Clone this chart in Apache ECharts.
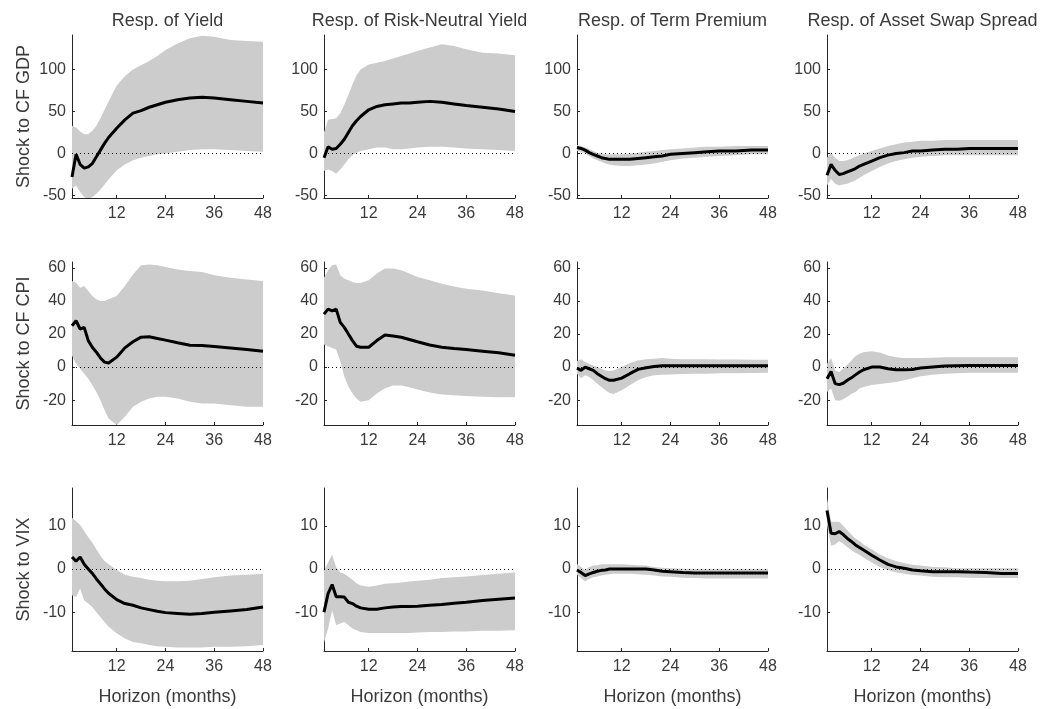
<!DOCTYPE html>
<html><head><meta charset="utf-8">
<script src="https://cdn.jsdelivr.net/npm/echarts@6/dist/echarts.min.js"></script>
<style>html,body{margin:0;padding:0;background:#fff}#c{width:1046px;height:709px}</style>
</head><body><div id="c"></div>
<script>
// ---------------- DATA ----------------
const horizons = [1,2,3,4,5,6,7,8,9,10,12,14,16,18,20,22,24,27,30,33,36,40,44,48];
const colTitles = ['Resp. of Yield','Resp. of Risk-Neutral Yield','Resp. of Term Premium','Resp. of Asset Swap Spread'];
const rowTitles = ['Shock to CF GDP','Shock to CF CPI','Shock to VIX'];
const xAxisTitle = 'Horizon (months)';
const xTickValues = [12,24,36,48];
const yTicksGdp = [-50,0,50,100];
const yTicksCpi = [-20,0,20,40,60];
const yTicksVix = [-10,0,10];
const yRangeGdp = [-53,141];
const yRangeCpi = [-35,63.5];
const yRangeVix = [-19,18.8];

// Row 1: shock to CF GDP
const yieldGdpMean = [-28,-1,-13,-17.5,-16,-12,-4,4,12,19,30,40,48,51,55,58,61,64,66,67,66,64,62,60];
const yieldGdpUp   = [33,31,26,23,23,27,33,42,52,62,81,92,100,105,110,116,123,131,137,140,139,135,134,133];
const yieldGdpLo   = [-42,-38,-46,-52,-54,-52,-48,-43,-37,-31,-20,-13,-8,-5,-3,-1,0,2,4,5,5,4,3,2];
const rnGdpMean = [-5,8,5,6,11,17,25,33,39,44,52,56,58,59,60,60,61,62,61,59,57,55,53,50];
const rnGdpUp   = [25,40,41,42,48,58,70,82,93,100,106,108,110,113,116,119,122,126,130,128,124,120,119,117];
const rnGdpLo   = [-21,-19,-21,-24,-19,-13,-7,-2,1,3,5,7,7,5,5,6,7,8,8,7,6,5,4,3];
const tpGdpMean = [7,6,4,1,-1,-3,-5,-6,-7,-7,-7,-7,-6,-5,-4,-3,-1,0,1,2,3,3,4,4];
const tpGdpUp   = [10,9,7,5,3,1,0,-1,-1,-1,-1,0,1,2,3,4,5,6,7,8,8,9,9,9];
const tpGdpLo   = [3,2,0,-3,-6,-8,-10,-12,-13,-14,-15,-15,-14,-13,-12,-10,-8,-6,-5,-4,-3,-2,-1,-1];
const aswGdpMean = [-26,-13,-20,-25,-24,-22,-20,-18,-15,-13,-9,-5,-2,0,1,3,3,4,5,5,6,6,6,6];
const aswGdpUp   = [-5,1,-5,-9,-9,-8,-6,-4,-2,0,3,6,9,11,13,14,15,15,16,16,16,16,16,16];
const aswGdpLo   = [-38,-30,-36,-38,-37,-36,-34,-32,-29,-26,-21,-16,-12,-9,-7,-5,-4,-3,-2,-2,-2,-2,-2,-2];

// Row 2: shock to CF CPI
const yieldCpiMean = [25,28,23,24,16,12,9,5.5,3,2.5,6,11.6,15.3,18.1,18.3,17.3,16.3,14.7,13.2,13,12.4,11.6,10.6,9.6];
const yieldCpiUp   = [52,51,48,49,46,43,41,40,40,41,43,49,56,61.5,62,61.5,60.5,59,58,57.5,55.5,54,53,52];
const yieldCpiLo   = [7,2,-1,-4,-7,-11,-15,-20,-26,-31,-35,-30,-24,-21,-19,-18,-18,-19,-21,-22,-22,-23,-24,-24];
const rnCpiMean = [32,35,34,35,27,24,20,16,12.6,12,12,16,19.4,18.8,18,16.7,15.3,13.3,12,11.2,10.6,9.6,8.6,7.1];
const rnCpiUp   = [54,58.5,61.6,62,55.5,53.4,52.4,51.4,50.8,50.8,52.4,56.5,59.5,59.5,58.5,56.5,54.4,52.4,50.4,48.7,47.3,46.3,44.6,43.2];
const rnCpiLo   = [13.7,12.6,11.6,10.6,3.5,-5.7,-11.8,-15.9,-19,-21,-20,-16,-12.8,-11.2,-11.2,-12.2,-13.5,-15.3,-16.5,-17,-17.5,-18,-18.3,-18.3];
const tpCpiMean = [-0.6,-2,0,-1,-2,-4,-5.5,-7,-8,-8,-6.7,-4,-1.4,-0.4,0.4,0.8,0.8,0.8,0.8,0.8,0.8,0.8,0.8,0.8];
const tpCpiUp   = [3.5,4.7,3,2,1,0,-1,-2,-2.4,-2,0,2.4,4,4.7,5,5.5,5,4.8,4.7,4.7,4.6,4.6,4.5,4.5];
const tpCpiLo   = [-4,-6.7,-5,-6,-8,-10,-12,-14,-15.7,-16.3,-14,-11,-8,-6,-5,-4.7,-4.5,-4.2,-4,-4,-3.8,-3.7,-3.6,-3.5];
const aswCpiMean = [-7,-2.7,-10,-10.6,-9.8,-8,-6.5,-4.7,-3,-1.6,0,0,-1,-1.6,-1.6,-1.4,-0.6,0,0.6,0.8,0.9,1,1,1];
const aswCpiUp   = [2,5.5,-2,-3,-1,1.4,4,6.5,8,9,9.6,8.8,7,6,5.5,5.5,5.5,5.7,6,6,6,6,6,6];
const aswCpiLo   = [-15,-13,-20,-20.4,-19.4,-18,-16.3,-15,-13,-12,-10.8,-10.2,-9.6,-9,-8,-6.7,-5.5,-4.7,-4,-3.7,-3.5,-3.5,-3.5,-3.5];

// Row 3: shock to VIX
const yieldVixMean = [2.8,1.8,2.8,1.1,0,-1,-2.3,-3.4,-4.6,-5.6,-7.1,-8,-8.4,-9,-9.4,-9.8,-10.1,-10.3,-10.5,-10.3,-10,-9.7,-9.4,-8.8];
const yieldVixUp   = [11.9,11.1,10.2,8.8,7.4,6.1,4.6,3.1,1.9,1.1,-0.2,-1.3,-1.8,-2.1,-2.5,-2.7,-2.8,-2.8,-2.7,-2.3,-1.9,-1.5,-1.3,-1.1];
const yieldVixLo   = [-6.1,-6.5,-4.5,-7.3,-8,-8.8,-10,-11.1,-12.3,-13.4,-14.9,-16.1,-16.9,-17.2,-17.6,-17.9,-18,-18.2,-18.2,-18.2,-18,-18,-17.9,-17.6];
const rnVixMean = [-10,-5.7,-3.6,-6.4,-6.4,-6.5,-7.7,-8,-8.6,-9,-9.3,-9.3,-9,-8.8,-8.7,-8.7,-8.6,-8.4,-8.2,-7.9,-7.7,-7.3,-7,-6.7];
const rnVixUp   = [-0.4,1.5,3.3,0.4,-0.8,-1.1,-1.8,-2.5,-3.3,-3.8,-4.1,-3.8,-3.4,-3.3,-3.1,-2.9,-2.7,-2.5,-2.1,-1.9,-1.7,-1.4,-1.1,-0.8];
const rnVixLo   = [-17,-13.8,-9.6,-13,-12.6,-12.3,-13,-13.8,-14.2,-14.6,-14.8,-14.8,-14.8,-14.8,-14.8,-14.8,-14.7,-14.6,-14.6,-14.5,-14.5,-14.3,-14.3,-14.2];
const tpVixMean = [-0.2,-0.8,-1.5,-1.1,-0.8,-0.5,-0.3,-0.2,0,0,0,0,0,0,-0.2,-0.5,-0.6,-0.8,-0.9,-0.9,-0.9,-0.9,-0.9,-0.9];
const tpVixUp   = [1.2,0.5,-0.2,0.5,0.8,0.9,1.1,1.1,1.1,1.1,1.1,1,0.9,0.8,0.5,0.3,0.2,0.1,0,0,0,0,0,0];
const tpVixLo   = [-1.3,-2.1,-2.8,-2.3,-1.9,-1.7,-1.5,-1.3,-1.2,-1.1,-1.1,-1.1,-1.2,-1.3,-1.5,-1.7,-1.8,-2,-2.1,-2.2,-2.2,-2.2,-2.2,-2.2];
const aswVixMean = [13.6,8.3,8.2,8.7,8,7.1,6.4,5.6,5,4.4,3.2,2.1,1.1,0.5,0.2,-0.2,-0.4,-0.6,-0.6,-0.6,-0.7,-0.8,-1,-1];
const aswVixUp   = [16.5,11,11,11,10,9,8,7.1,6.5,5.7,4.6,3.4,2.5,1.9,1.4,1,0.8,0.5,0.4,0.2,0.2,0.2,0.2,0.2];
const aswVixLo   = [10.3,5.4,5.7,6.5,5.9,5.1,4.4,3.8,3.3,2.7,1.5,0.5,-0.2,-0.8,-1.1,-1.4,-1.5,-1.8,-1.9,-1.9,-2,-2.1,-2.1,-2.1];

// ---------------- BUILD ----------------
const panels = [
  [[yieldGdpMean,yieldGdpUp,yieldGdpLo],[rnGdpMean,rnGdpUp,rnGdpLo],[tpGdpMean,tpGdpUp,tpGdpLo],[aswGdpMean,aswGdpUp,aswGdpLo]],
  [[yieldCpiMean,yieldCpiUp,yieldCpiLo],[rnCpiMean,rnCpiUp,rnCpiLo],[tpCpiMean,tpCpiUp,tpCpiLo],[aswCpiMean,aswCpiUp,aswCpiLo]],
  [[yieldVixMean,yieldVixUp,yieldVixLo],[rnVixMean,rnVixUp,rnVixLo],[tpVixMean,tpVixUp,tpVixLo],[aswVixMean,aswVixUp,aswVixLo]]
];
const rowTicks = [yTicksGdp, yTicksCpi, yTicksVix];
const rowRanges = [yRangeGdp, yRangeCpi, yRangeVix];

const colLeft = [72, 324, 577, 827];
const gridW = 191;
const rowTop = [35, 262, 488];
const gridH = 163;
const FONT = 'Liberation Sans, Arial, Helvetica, sans-serif';
const AX = '#262626';
const TXT = '#3a3a3a';

const grids = [], xAxes = [], yAxes = [], series = [], graphics = [];
const pairs = arr => horizons.map((h, k) => [h, arr[k]]);

function bandRenderer(up, lo) {
  return function (params, api) {
    if (params.dataIndex !== 0) return null;
    const top = horizons.map((h, k) => api.coord([h, up[k]]));
    const bot = horizons.map((h, k) => api.coord([h, lo[k]])).reverse();
    const cs = params.coordSys;
    return {
      type: 'polygon',
      shape: {points: top.concat(bot)},
      style: {fill: '#cccccc', stroke: null},
      clipPath: {type: 'rect', shape: {x: cs.x - 1, y: cs.y, width: cs.width + 1, height: cs.height}},
      silent: true
    };
  };
}

for (let r = 0; r < 3; r++) {
  for (let c = 0; c < 4; c++) {
    const i = r * 4 + c;
    grids.push({left: colLeft[c], top: rowTop[r], width: gridW, height: gridH, containLabel: false});
    xAxes.push({
      type: 'value', gridIndex: i, min: 1, max: 48,
      axisLine: {onZero: false, lineStyle: {color: AX, width: 1}},
      axisTick: {inside: true, length: 3, customValues: xTickValues, lineStyle: {color: AX}},
      axisLabel: {customValues: xTickValues, color: TXT, fontSize: 16, fontFamily: FONT, margin: 8},
      splitLine: {show: false}
    });
    yAxes.push({
      type: 'value', gridIndex: i, min: rowRanges[r][0], max: rowRanges[r][1],
      axisLine: {show: true, onZero: false, lineStyle: {color: AX, width: 1}},
      axisTick: {show: true, inside: true, length: 3, customValues: rowTicks[r], lineStyle: {color: AX}},
      axisLabel: {customValues: rowTicks[r], color: TXT, fontSize: 16, fontFamily: FONT, margin: 6},
      splitLine: {show: false}
    });
    const [mean, up, lo] = panels[r][c];
    series.push({
      type: 'custom', xAxisIndex: i, yAxisIndex: i, silent: true, z: 2,
      data: horizons.map((h, k) => [h, lo[k], up[k]]),
      encode: {x: 0, y: [1, 2]},
      renderItem: bandRenderer(up, lo),
      markLine: {silent: true, symbol: 'none', label: {show: false}, animation: false,
        lineStyle: {color: '#000', type: [1, 3], width: 1}, data: [{yAxis: 0}]}
    });
    series.push({
      type: 'line', xAxisIndex: i, yAxisIndex: i, data: pairs(mean),
      symbol: 'none', lineStyle: {color: '#000', width: 3}, silent: true, z: 4
    });
  }
}

for (let c = 0; c < 4; c++) {
  const cx = colLeft[c] + gridW / 2;
  graphics.push({type: 'text', x: cx, y: 21, style: {text: colTitles[c], fill: TXT, font: '18px ' + FONT, textAlign: 'center', textVerticalAlign: 'middle'}});
  graphics.push({type: 'text', x: cx, y: 697, style: {text: xAxisTitle, fill: TXT, font: '18px ' + FONT, textAlign: 'center', textVerticalAlign: 'middle'}});
}
for (let r = 0; r < 3; r++) {
  const cy = rowTop[r] + gridH / 2;
  graphics.push({type: 'text', x: 24, y: cy, rotation: Math.PI / 2, style: {text: rowTitles[r], fill: TXT, font: '18px ' + FONT, textAlign: 'center', textVerticalAlign: 'middle'}});
}

const chart = echarts.init(document.getElementById('c'), null, {renderer: 'canvas'});
chart.setOption({
  animation: false,
  backgroundColor: '#ffffff',
  grid: grids, xAxis: xAxes, yAxis: yAxes, series: series, graphic: graphics
});
</script>
</body></html>
